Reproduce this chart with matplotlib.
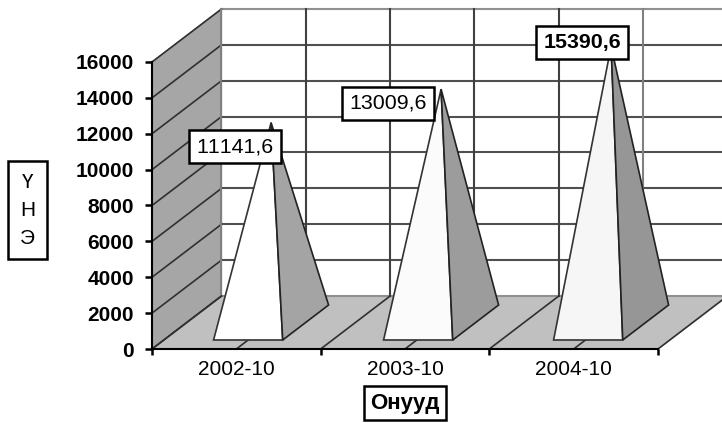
import matplotlib
matplotlib.use("Agg")
import matplotlib.pyplot as plt

years = ["2002-10", "2003-10", "2004-10"]
values = [11141.6, 13009.6, 15390.6]
value_labels = ["11141,6", "13009,6", "15390,6"]
y_ticks = [0, 2000, 4000, 6000, 8000, 10000, 12000, 14000, 16000]
front_colors = ["#ffffff", "#fbfbfb", "#f6f6f6"]
side_colors = ["#a4a4a4", "#9c9c9c", "#969696"]

plt.rcParams["font.family"] = ["Liberation Sans", "DejaVu Sans"]
plt.rcParams["text.kerning_factor"] = 6

W, H = 722, 423
# depth of the 3d box, in data units
depth_x = 0.412
depth_y = 2955
half_w = 0.205
step = 1.008

fig = plt.figure(figsize=(W / 100, H / 100), dpi=100)
ax = fig.add_axes([152 / W, (H - 349) / H, 506 / W, 287 / H])
ax.set_xlim(-0.5, 2.5)
ax.set_ylim(0, 16000)
ax.patch.set_visible(False)


def depth(x, y, d):
    return x + depth_x * d, y + depth_y * d


# side wall and floor
wall = [depth(-0.5, 0, 0), depth(-0.5, 16000, 0), depth(-0.5, 16000, 1), depth(-0.5, 0, 1)]
ax.fill(*zip(*wall), color="#a6a6a6", clip_on=False, zorder=1)
floor = [depth(-0.5, 0, 0), depth(2.5, 0, 0), depth(2.5, 0, 1), depth(-0.5, 0, 1)]
ax.fill(*zip(*floor), color="#c0c0c0", clip_on=False, zorder=1)

# grid on the walls
for v in y_ticks:
    x0, y0 = depth(-0.5, v, 1)
    x1, y1 = depth(2.5, v, 1)
    line_col = "#909090" if v in (0, 16000) else "#505050"
    ax.plot([x0, x1], [y0, y1], color=line_col, lw=1.5, clip_on=False, zorder=2)
    x2, y2 = depth(-0.5, v, 0)
    ax.plot([x2, x0], [y2, y0], color="#303030", lw=1.2, clip_on=False, zorder=2)

for k in range(7):
    c = -0.5 + k * 0.5
    x0, y0 = depth(c, 0, 1)
    x1, y1 = depth(c, 16000, 1)
    if k < 6:
        line_col = "#808080" if k in (0, 5) else "#404040"
        ax.plot([x0, x1], [y0, y1], color=line_col, lw=1.5, clip_on=False, zorder=2)
    x2, y2 = depth(c, 0, 0)
    ax.plot([x2, x0], [y2, y0], color="#303030", lw=1.2, clip_on=False, zorder=2)

# pyramids
for i, v in enumerate(values):
    c = i * step
    apex = depth(c, v, 0.5)
    fl = depth(c - half_w, 0, 0.17)
    fr = depth(c + half_w, 0, 0.17)
    br = depth(c + half_w, 0, 0.83)
    ax.fill(*zip(fl, fr, apex), facecolor=front_colors[i], edgecolor="#333333", lw=1.2,
            clip_on=False, zorder=3)
    ax.fill(*zip(fr, br, apex), facecolor=side_colors[i], edgecolor="#222222", lw=1.2,
            clip_on=False, zorder=3)

# value labels
offsets = [(-36, -24), (-53, -14), (-29, 4)]
for i, v in enumerate(values):
    ax.annotate(value_labels[i], xy=depth(i * step, v, 0.5), xytext=offsets[i],
                textcoords="offset pixels", ha="center", va="center", fontsize=15.4,
                fontweight="bold" if i == 2 else "normal", zorder=5, annotation_clip=False,
                bbox=dict(boxstyle="square,pad=0.33", facecolor="white", edgecolor="black", lw=1.8))

# axes
for s in ["top", "right"]:
    ax.spines[s].set_visible(False)
for s in ["left", "bottom"]:
    ax.spines[s].set_linewidth(1.5)
    ax.spines[s].set_zorder(4)

ax.set_yticks(y_ticks)
ax.set_yticklabels([str(t) for t in y_ticks], fontsize=15, fontweight="bold")
ax.tick_params(axis="y", length=5, width=1.8, pad=8)
ax.set_xticks([-0.5, 0.5, 1.5, 2.5])
ax.set_xticklabels([])
ax.tick_params(axis="x", which="major", length=4, width=1.8)
ax.set_xticks([0, 1, 2], minor=True)
ax.set_xticklabels(years, minor=True, fontsize=15)
ax.tick_params(axis="x", which="minor", length=0, pad=8)

# axis titles in boxes
fig.text(405 / W, 1 - 403 / H, "Онууд", fontsize=16, fontweight="bold", ha="center", va="center",
         bbox=dict(boxstyle="square,pad=0.3", facecolor="white", edgecolor="black", lw=1.8))
fig.text(27.5 / W, 1 - 210 / H, "Ү\nН\nЭ", fontsize=15, ha="center", va="center", linespacing=1.6,
         bbox=dict(boxstyle="square,pad=0.55", facecolor="white", edgecolor="black", lw=1.8))

fig.savefig("out.png", dpi=100)
